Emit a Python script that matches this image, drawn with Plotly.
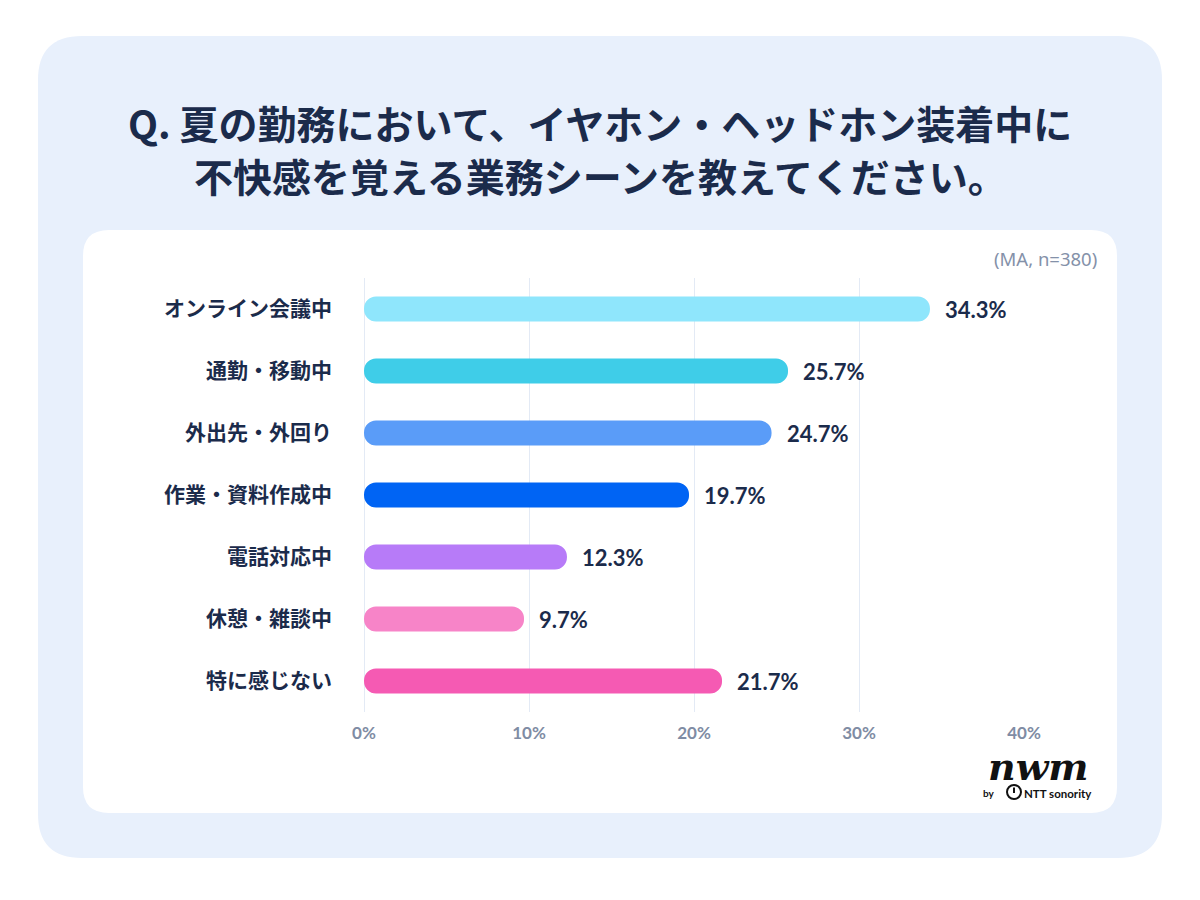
import plotly.graph_objects as go

# survey answers (MA, n=380)
categories = [
    "オンライン会議中",
    "通勤・移動中",
    "外出先・外回り",
    "作業・資料作成中",
    "電話対応中",
    "休憩・雑談中",
    "特に感じない",
]
values = [34.3, 25.7, 24.7, 19.7, 12.3, 9.7, 21.7]
bar_colors = ["#8fe6fc", "#3fcde8", "#5a9cf8", "#0064f4", "#b77bf8", "#f784c8", "#f55ab3"]
tick_vals = [0, 10, 20, 30, 40]
tick_text = ["0%", "10%", "20%", "30%", "40%"]

title_lines = [
    "Q. 夏の勤務において、イヤホン・ヘッドホン装着中に",
    "不快感を覚える業務シーンを教えてください。",
]
note = "(MA, n=380)"

W, H = 1200, 900
OFF = 8  # page body margin in the screenshot
PX0, PX1, PY0, PY1 = 364, 1024, 278, 712  # plot area in screen pixels

NAVY = "#1b2b4b"
GRID = "#e3eaf5"
JP = "Noto Sans CJK JP"
NUM = "Lato"
EPS = 0.001  # tiny non-zero base -> plotly rounds both ends of the bar


def px(x):
    return (x - PX0) / (PX1 - PX0)


def py(y):
    return (PY1 - y) / (PY1 - PY0)


def rounded_rect(x0, y0, x1, y1, r):
    # path in paper coords, corners drawn with quadratic curves
    pts = [
        f"M{px(x0 + r)},{py(y0)}",
        f"L{px(x1 - r)},{py(y0)}",
        f"Q{px(x1)},{py(y0)} {px(x1)},{py(y0 + r)}",
        f"L{px(x1)},{py(y1 - r)}",
        f"Q{px(x1)},{py(y1)} {px(x1 - r)},{py(y1)}",
        f"L{px(x0 + r)},{py(y1)}",
        f"Q{px(x0)},{py(y1)} {px(x0)},{py(y1 - r)}",
        f"L{px(x0)},{py(y0 + r)}",
        f"Q{px(x0)},{py(y0)} {px(x0 + r)},{py(y0)}",
        "Z",
    ]
    return " ".join(pts)


fig = go.Figure()
fig.add_trace(
    go.Bar(
        x=[v - EPS for v in values],
        base=EPS,
        y=categories,
        orientation="h",
        width=0.4,
        marker=dict(color=bar_colors, cornerradius=12, line=dict(width=0)),
        hoverinfo="skip",
    )
)

annotations = []
for cat, v in zip(categories, values):
    annotations.append(
        dict(
            x=v, y=cat, xref="x", yref="y", text=f"{v:.1f}%",
            showarrow=False, xanchor="left", xshift=13,
            font=dict(family=NUM, size=22, color=NAVY, weight="bold"),
        )
    )

for i, line in enumerate(title_lines):
    annotations.append(
        dict(
            x=px(600), y=py(122 + 53 * i), xref="paper", yref="paper",
            text=line, showarrow=False, xanchor="center", yanchor="middle",
            font=dict(family=JP, size=39, color=NAVY, weight="bold"),
        )
    )

annotations += [
    dict(x=px(1099), y=py(259), xref="paper", yref="paper", text=note,
         showarrow=False, xanchor="right", yanchor="middle",
         font=dict(family="Noto Sans", size=18.5, color="#8491a9")),
    # logo
    dict(x=px(1038), y=py(766), xref="paper", yref="paper", text="<b><i>nwm</i></b>",
         showarrow=False, xanchor="center", yanchor="middle",
         font=dict(family="DejaVu Serif", size=38, color="#111111")),
    dict(x=px(989), y=py(793), xref="paper", yref="paper", text="<b>by</b>",
         showarrow=False, xanchor="center", yanchor="middle",
         font=dict(family="Lato", size=10, color="#111111")),
    dict(x=px(1022), y=py(793), xref="paper", yref="paper", text="<b>NTT sonority</b>",
         showarrow=False, xanchor="left", yanchor="middle",
         font=dict(family="Lato", size=11.5, color="#111111")),
]

shapes = [
    dict(type="path", xref="paper", yref="paper", path=rounded_rect(38, 36, 1162, 858, 44),
         fillcolor="#e8f0fc", line=dict(width=0), layer="below"),
    dict(type="path", xref="paper", yref="paper", path=rounded_rect(83, 230, 1117, 813, 26),
         fillcolor="#ffffff", line=dict(width=0), layer="below"),
    # NTT icon
    dict(type="circle", xref="paper", yref="paper",
         x0=px(1007), x1=px(1021), y0=py(785), y1=py(799),
         line=dict(color="#111111", width=2), fillcolor="rgba(0,0,0,0)"),
    dict(type="line", xref="paper", yref="paper",
         x0=px(1014), x1=px(1014), y0=py(787.5), y1=py(793),
         line=dict(color="#111111", width=2)),
]

fig.update_layout(
    width=W,
    height=H,
    margin=dict(l=PX0 - OFF, r=W - (PX1 - OFF), t=PY0 - OFF, b=H - (PY1 - OFF), pad=0),
    paper_bgcolor="#ffffff",
    plot_bgcolor="rgba(0,0,0,0)",
    showlegend=False,
    annotations=annotations,
    shapes=shapes,
    xaxis=dict(
        range=[0, 40],
        tickvals=tick_vals,
        ticktext=tick_text,
        showgrid=True,
        gridcolor=GRID,
        gridwidth=1,
        zeroline=True,
        zerolinecolor=GRID,
        zerolinewidth=1,
        showline=False,
        ticks="",
        ticklabelstandoff=9,
        tickfont=dict(family=NUM, size=17, color="#7f8ca4", weight="bold"),
        fixedrange=True,
    ),
    yaxis=dict(
        autorange="reversed",
        showgrid=False,
        zeroline=False,
        showline=False,
        ticks="",
        ticklabelstandoff=31,
        tickfont=dict(family=JP, size=21, color=NAVY, weight="bold"),
        fixedrange=True,
    ),
)

fig.write_html("out.html")
